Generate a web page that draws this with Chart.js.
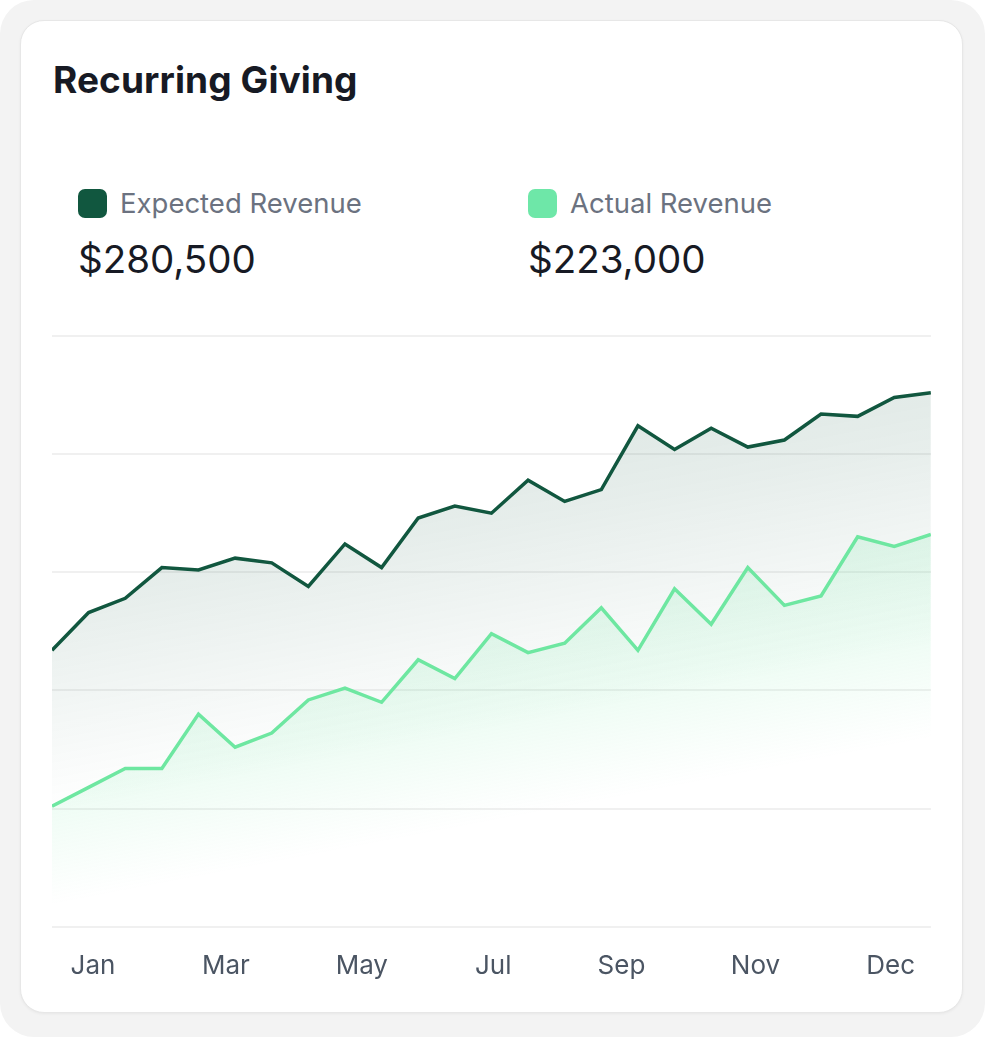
<!DOCTYPE html>
<html>
<head>
<meta charset="utf-8">
<script src="https://cdn.jsdelivr.net/npm/chart.js@4.4.1/dist/chart.umd.min.js"></script>
<style>
  html, body { margin: 0; padding: 0; background: #ffffff; }
  body { width: 985px; height: 1037px; position: relative; overflow: hidden; font-family: Inter, "Noto Sans", sans-serif; }
  .frame { position: absolute; left: 0; top: 0; width: 985px; height: 1037px; background: #f3f3f3; border-radius: 34px; }
  .card { position: absolute; left: 20px; top: 20px; width: 941px; height: 991px; background: #fff; border: 1px solid #e7e7e7; border-radius: 24px; box-shadow: 0 1px 3px rgba(0,0,0,0.05); }
  .title { position: absolute; left: 53px; top: 57px; font-size: 37px; font-weight: 700; color: #171a24; line-height: 46px; letter-spacing: 0.1px; }
  .legend { position: absolute; top: 189px; }
  .swatch { position: absolute; left: 0; top: 0; width: 29px; height: 29px; border-radius: 7px; }
  .lbl { position: absolute; left: 42px; top: -2px; font-size: 27.5px; color: #6b7280; line-height: 32px; white-space: nowrap; }
  .val { position: absolute; left: 0; top: 47px; font-size: 38.5px; color: #171a24; line-height: 46px; white-space: nowrap; }
  .chart-box { position: absolute; left: 52px; top: 332px; width: 879px; height: 666px; }
</style>
</head>
<body>
<div class="frame"></div>
<div class="card"></div>
<div class="title">Recurring Giving</div>
<div class="legend" style="left:78px">
  <div class="swatch" style="background:#11573f"></div>
  <div class="lbl">Expected Revenue</div>
  <div class="val">$280,500</div>
</div>
<div class="legend" style="left:528px">
  <div class="swatch" style="background:#6ee7a8"></div>
  <div class="lbl">Actual Revenue</div>
  <div class="val">$223,000</div>
</div>
<div class="chart-box"><canvas id="givingChart"></canvas></div>
<script>
// values in $k, one point per ~2 weeks
const expectedValues = [117, 133, 139, 152, 151, 156, 154, 144, 162, 152, 173, 178, 175, 189, 180, 185, 212, 202, 211, 203, 206, 217, 216, 224, 226];
const actualValues = [51, 59, 67, 67, 90, 76, 82, 96, 101, 95, 113, 105, 124, 116, 120, 135, 117, 143, 128, 152, 136, 140, 165, 161, 166];

const monthLabels = ["Jan", "Mar", "May", "Jul", "Sep", "Nov", "Dec"];
const monthTicks = [1.12, 4.75, 8.46, 12.05, 15.55, 19.21, 22.9];

const yMax = 250;
const yStep = 50;

function tiltedFill(stops) {
    return function (context) {
        const chart = context.chart;
        const area = chart.chartArea;
        if (!area) return "rgba(0,0,0,0)";
        const h = area.bottom - area.top;
        const g = chart.ctx.createLinearGradient(area.left, area.top, area.left + 0.19 * h, area.bottom);
        stops.forEach(s => g.addColorStop(s[0], s[1]));
        return g;
    };
}

const chart = new Chart(document.getElementById("givingChart"), {
    type: "line",
    data: {
        datasets: [{
            label: "Actual Revenue",
            data: actualValues.map((v, i) => ({ x: i, y: v })),
            borderColor: "#6ee7a1",
            borderWidth: 3.5,
            pointRadius: 0,
            tension: 0,
            fill: "origin",
            backgroundColor: tiltedFill([
                [0.5, "rgba(110, 231, 161, 0.2)"],
                [0.75, "rgba(110, 231, 161, 0.12)"],
                [0.93, "rgba(110, 231, 161, 0)"]
            ])
        }, {
            label: "Expected Revenue",
            data: expectedValues.map((v, i) => ({ x: i, y: v })),
            borderColor: "#11573f",
            borderWidth: 3.5,
            pointRadius: 0,
            tension: 0,
            fill: "origin",
            backgroundColor: tiltedFill([
                [0, "rgba(17, 87, 63, 0.2)"],
                [0.45, "rgba(17, 87, 63, 0.1)"],
                [0.78, "rgba(17, 87, 63, 0)"]
            ])
        }]
    },
    options: {
        responsive: true,
        maintainAspectRatio: false,
        animation: false,
        layout: {
            padding: { top: 4, left: 0, right: 0, bottom: 0 }
        },
        plugins: {
            legend: { display: false },
            tooltip: { enabled: false }
        },
        scales: {
            x: {
                type: "linear",
                min: 0,
                max: expectedValues.length - 1,
                grid: { display: false },
                border: { display: false },
                afterBuildTicks: scale => {
                    scale.ticks = monthTicks.map(v => ({ value: v }));
                },
                ticks: {
                    autoSkip: false,
                    maxRotation: 0,
                    padding: 16,
                    color: "#4b5563",
                    font: { family: "Inter", size: 26 },
                    callback: (value, index) => monthLabels[index]
                }
            },
            y: {
                min: 0,
                max: yMax,
                grid: { color: "#f0f0f0", lineWidth: 2, drawTicks: false },
                border: { display: false },
                ticks: { display: false, stepSize: yStep }
            }
        }
    }
});
</script>
</body>
</html>
